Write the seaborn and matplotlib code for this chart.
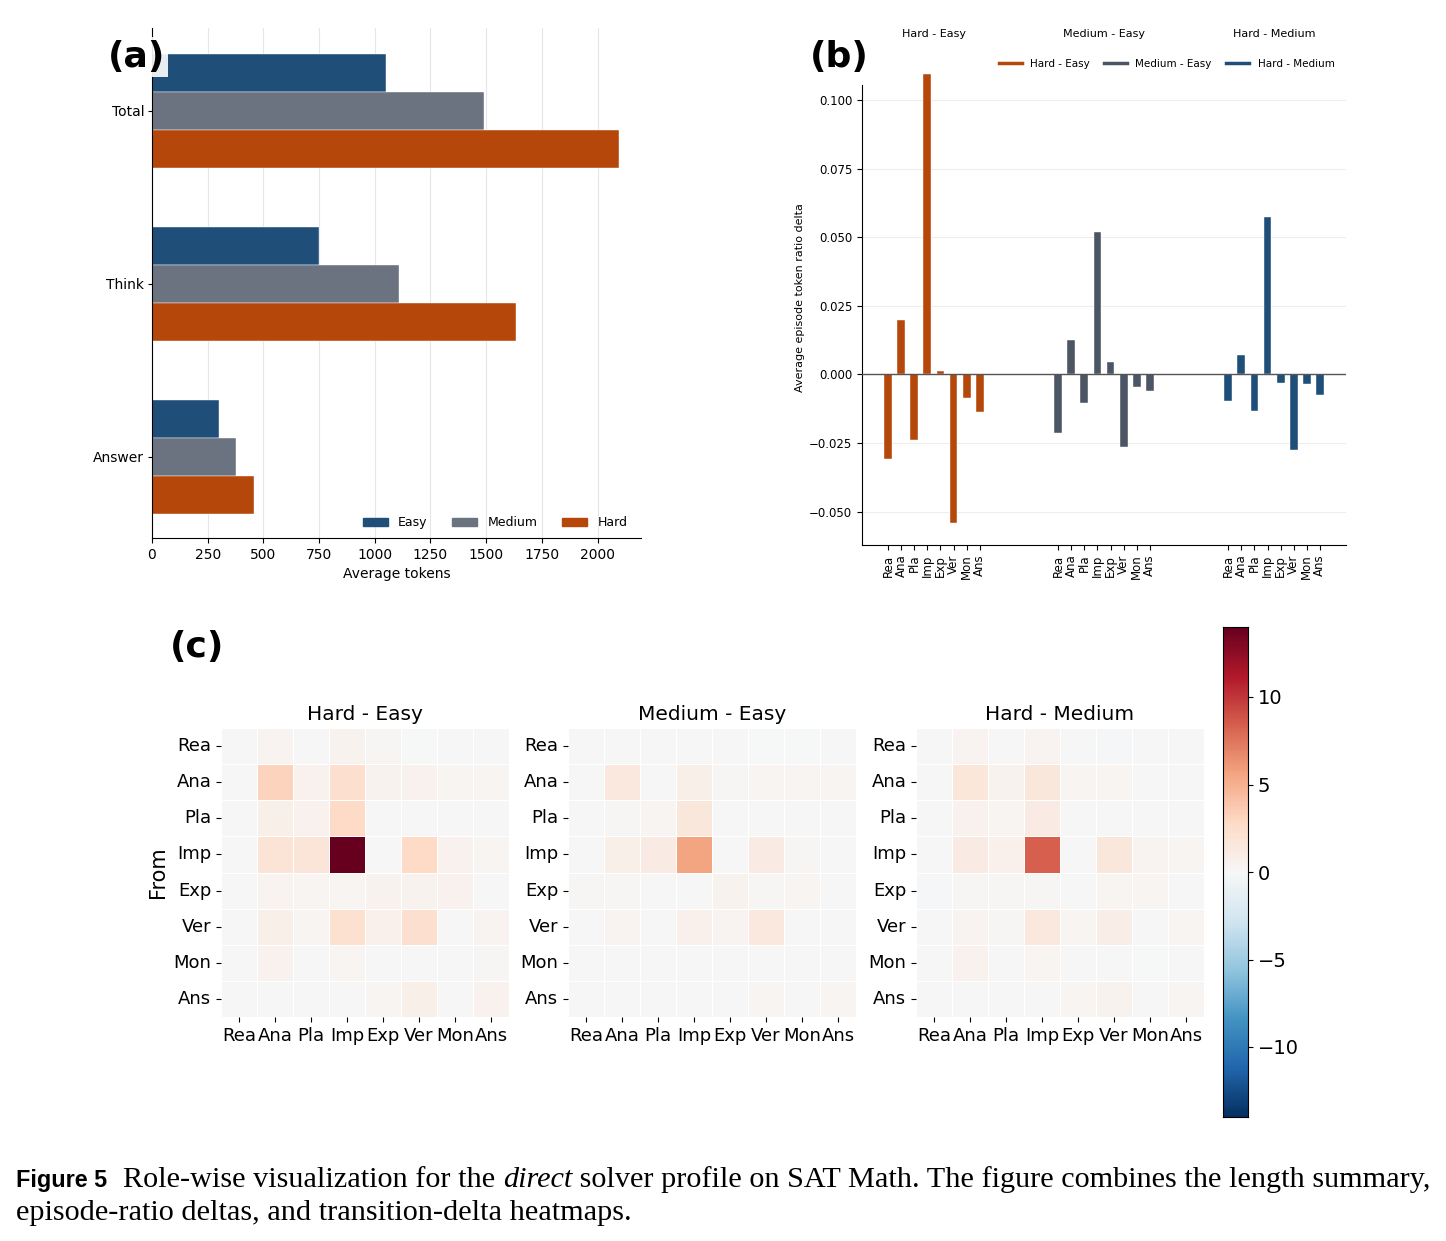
import numpy as np
import pandas as pd
import matplotlib
matplotlib.use("Agg")
import matplotlib.pyplot as plt
import seaborn as sns
from matplotlib.lines import Line2D

# ---------------- data ----------------
segments = ["Total", "Think", "Answer"]
difficulties = ["Easy", "Medium", "Hard"]
tokens_easy = [1050, 748, 300]
tokens_medium = [1490, 1110, 378]
tokens_hard = [2095, 1635, 460]

roles = ["Rea", "Ana", "Pla", "Imp", "Exp", "Ver", "Mon", "Ans"]
pairs = ["Hard - Easy", "Medium - Easy", "Hard - Medium"]
delta_hard_easy = [-0.0307, 0.0200, -0.0238, 0.1095, 0.0012, -0.0542, -0.0085, -0.0136]
delta_medium_easy = [-0.0213, 0.0127, -0.0103, 0.0519, 0.0045, -0.0265, -0.0047, -0.0062]
delta_hard_medium = [-0.0096, 0.0071, -0.0134, 0.0574, -0.0030, -0.0274, -0.0035, -0.0074]

# transition deltas (rows = From, columns = To)
trans_hard_easy = [
    [0.0, 0.4, 0.0, 0.5, 0.2, -0.1, 0.0, 0.1],
    [0.0, 3.2, 0.6, 2.4, 0.5, 0.6, 0.3, 0.3],
    [0.0, 0.8, 0.6, 2.8, 0.1, 0.1, 0.0, 0.0],
    [0.0, 1.9, 1.8, 14.0, 0.1, 2.8, 0.6, 0.3],
    [0.0, 0.4, 0.3, 0.3, 0.5, 0.5, 0.6, 0.0],
    [0.0, 0.8, 0.3, 2.2, 0.7, 2.4, 0.1, 0.4],
    [0.0, 0.6, 0.1, 0.3, 0.1, 0.1, 0.0, 0.2],
    [0.0, 0.1, 0.0, 0.1, 0.3, 0.8, 0.1, 0.6],
]
trans_medium_easy = [
    [0.0, 0.0, 0.0, 0.1, 0.1, -0.1, -0.1, 0.0],
    [0.0, 1.5, 0.1, 0.8, 0.2, 0.3, 0.3, 0.3],
    [0.0, 0.2, 0.3, 1.6, 0.0, 0.0, 0.0, 0.0],
    [0.0, 0.8, 1.1, 5.6, 0.0, 1.2, 0.2, 0.0],
    [0.2, 0.2, 0.1, 0.1, 0.5, 0.2, 0.3, 0.0],
    [0.0, 0.4, 0.1, 0.7, 0.4, 1.5, 0.0, 0.1],
    [0.0, 0.0, 0.0, 0.0, 0.1, 0.0, 0.1, 0.1],
    [0.0, 0.0, 0.0, 0.0, 0.0, 0.3, 0.0, 0.3],
]
trans_hard_medium = [
    [0.0, 0.4, 0.0, 0.4, 0.1, -0.2, 0.1, 0.1],
    [0.0, 1.7, 0.5, 1.6, 0.3, 0.3, 0.0, 0.0],
    [0.0, 0.6, 0.3, 1.2, 0.1, 0.1, 0.0, 0.0],
    [0.0, 1.1, 0.7, 8.4, 0.1, 1.6, 0.4, 0.3],
    [-0.2, 0.2, 0.2, 0.2, 0.0, 0.3, 0.3, 0.0],
    [0.0, 0.4, 0.2, 1.5, 0.3, 0.9, 0.1, 0.3],
    [0.0, 0.6, 0.1, 0.3, 0.0, 0.1, -0.1, 0.1],
    [0.0, 0.1, 0.0, 0.1, 0.3, 0.5, 0.1, 0.3],
]

# ---------------- style ----------------
c_easy, c_medium, c_hard = "#1f4e79", "#6b7280", "#b5470b"
pair_colors = ["#b5470b", "#4b5563", "#1f4e79"]

W, H = 1446, 1241
fig = plt.figure(figsize=(W / 100, H / 100), dpi=100)


def box(l, t, r, b):
    return [l / W, 1 - b / H, (r - l) / W, (b - t) / H]


# ---------------- panel (a) ----------------
axa = fig.add_axes(box(152, 28, 641, 538))
dfa = pd.DataFrame({
    "segment": segments * 3,
    "difficulty": [d for d in difficulties for _ in segments],
    "tokens": tokens_easy + tokens_medium + tokens_hard,
})
sns.barplot(data=dfa, y="segment", x="tokens", hue="difficulty", order=segments,
            hue_order=difficulties, palette=[c_easy, c_medium, c_hard], orient="h",
            width=0.66, ax=axa, edgecolor="white", linewidth=0.3, legend=False,
            saturation=1)
axa.set_xlim(0, 2195)
axa.set_ylim(2.47, -0.48)
axa.set_xticks(np.arange(0, 2001, 250))
axa.grid(axis="x", color="#e6e6e6", lw=0.8)
axa.set_axisbelow(True)
for s in ["top", "right"]:
    axa.spines[s].set_visible(False)
axa.set_ylabel("")
axa.set_xlabel("Average tokens", fontsize=10)
axa.tick_params(labelsize=10)
axa.tick_params(axis="y", length=3, pad=2.5)
handles_a = [plt.Rectangle((0, 0), 1, 1, color=c) for c in [c_easy, c_medium, c_hard]]
axa.legend(handles_a, difficulties, loc="lower right", ncol=3, frameon=False,
           fontsize=9, columnspacing=2.0, bbox_to_anchor=(0.995, -0.005))
fig.text(108 / W, 1 - 57 / H, "(a)", fontsize=26, fontweight="bold", va="center",
         ha="left", bbox=dict(facecolor="white", alpha=0.9, edgecolor="none", pad=2))

# ---------------- panel (b) ----------------
axb = fig.add_axes(box(862, 85, 1346, 545))
pos, dl, pl, rl = [], [], [], []
for g, (pair, vals) in enumerate(zip(pairs, [delta_hard_easy, delta_medium_easy, delta_hard_medium])):
    for i, r in enumerate(roles):
        pos.append(g * 13 + i)
        dl.append(vals[i])
        pl.append(pair)
        rl.append(r)
dfb = pd.DataFrame({"pos": pos, "delta": dl, "pair": pl, "role": rl})
sns.barplot(data=dfb, x="pos", y="delta", hue="pair", hue_order=pairs, palette=pair_colors,
            native_scale=True, dodge=False, width=0.6, ax=axb, legend=False,
            edgecolor="white", linewidth=0.3, saturation=1)
for p in axb.patches:
    p.set_clip_on(False)
axb.set_xlim(-2, 35)
axb.set_ylim(-0.0622, 0.1055)
axb.set_yticks([-0.05, -0.025, 0, 0.025, 0.05, 0.075, 0.1])
axb.set_yticklabels(["\u22120.050", "\u22120.025", "0.000", "0.025", "0.050", "0.075", "0.100"])
axb.set_xticks(pos)
axb.set_xticklabels(rl, rotation=90)
axb.tick_params(labelsize=8.5)
axb.axhline(0, color="#555555", lw=1.0, zorder=3)
axb.grid(axis="y", color="#eeeeee", lw=0.8)
axb.set_axisbelow(True)
for s in ["top", "right"]:
    axb.spines[s].set_visible(False)
axb.set_xlabel("")
axb.set_ylabel("Average episode token ratio delta", fontsize=8)
axb.yaxis.set_label_coords(-0.118, 0.537)
tr = matplotlib.transforms.blended_transform_factory(axb.transData, axb.transAxes)
for g, pair in enumerate(pairs):
    axb.text(g * 13 + 3.5, 1.111, pair, transform=tr, ha="center", va="center", fontsize=8)
handles_b = [Line2D([0], [0], color=c, lw=2.5) for c in pair_colors]
axb.legend(handles_b, pairs, loc="center right", bbox_to_anchor=(0.985, 1.046), ncol=3,
           frameon=False, fontsize=7.5, columnspacing=1.4, handlelength=2.2,
           borderaxespad=0)
fig.text(810 / W, 1 - 57 / H, "(b)", fontsize=26, fontweight="bold", va="center", ha="left")

# ---------------- panel (c) ----------------
cax = fig.add_axes(box(1223, 627, 1248, 1117))
lefts = [221, 568, 916]
mats = [trans_hard_easy, trans_medium_easy, trans_hard_medium]
for k, (lx, mat, pair) in enumerate(zip(lefts, mats, pairs)):
    ax = fig.add_axes(box(lx, 728, lx + 288, 1017))
    dfm = pd.DataFrame(mat, index=roles, columns=roles)
    sns.heatmap(dfm, ax=ax, cmap="RdBu_r", vmin=-14, vmax=14, center=0,
                linewidths=0.5, linecolor="white", cbar=(k == 0),
                cbar_ax=cax if k == 0 else None)
    ax.set_title(pair, fontsize=14.5, pad=6)
    ax.tick_params(labelsize=13)
    ax.set_yticklabels(roles, rotation=0)
    ax.set_xticklabels(roles, rotation=0)
    if k == 0:
        ax.set_ylabel("From", fontsize=15)
    else:
        ax.set_ylabel("")
    ax.set_xlabel("")
cax.set_yticks([-10, -5, 0, 5, 10])
cax.tick_params(labelsize=14)
for s in cax.spines.values():
    s.set_visible(True)
    s.set_color("black")
fig.text(170 / W, 1 - 647 / H, "(c)", fontsize=26, fontweight="bold", va="center", ha="left")

# ---------------- caption ----------------
renderer = fig.canvas.get_renderer()


def place(x_px, y_px, s, **kw):
    t = fig.text(x_px / W, 1 - y_px / H, s, va="baseline", ha="left", **kw)
    bb = t.get_window_extent(renderer=renderer)
    return t, bb.width


def fit(s, target, **kw):
    probe = fig.text(0, 0, s, fontsize=20, **kw)
    pw = probe.get_window_extent(renderer=renderer).width
    probe.remove()
    return 20 * target / pw


serif = "Liberation Serif"
fs = fit("Role-wise visualization for the direct solver profile on SAT Math. The figure combines the length summary,",
         1430 - 123, family=serif)
fs_fig = fit("Figure 5", 91, family="Liberation Sans", fontweight="bold")

place(16, 1187, "Figure 5", fontsize=fs_fig, fontweight="bold", family="Liberation Sans")
x = 123
_, w = place(x, 1187, "Role-wise visualization for the ", fontsize=fs, family=serif)
x += w
_, w = place(x, 1187, "direct", fontsize=fs, family=serif, style="italic")
x += w
place(x, 1187, " solver profile on SAT Math. The figure combines the length summary,", fontsize=fs, family=serif)
place(16, 1220, "episode-ratio deltas, and transition-delta heatmaps.", fontsize=fs, family=serif)

fig.savefig("out.png", dpi=100)
